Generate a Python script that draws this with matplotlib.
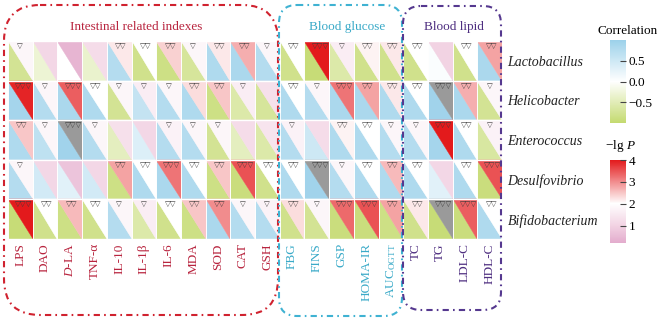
# -*- coding: utf-8 -*-
"""Correlation / -lg P split-cell heatmap: gut bacteria vs. indexes"""

import matplotlib
matplotlib.use("Agg")
import matplotlib.pyplot as plt
import matplotlib.patches as patches
from matplotlib.collections import PolyCollection
from matplotlib.colors import LinearSegmentedColormap, Normalize
from matplotlib.cm import ScalarMappable

plt.rcParams['font.family'] = ['Liberation Serif', 'DejaVu Serif']
plt.rcParams['mathtext.fontset'] = 'custom'
plt.rcParams['mathtext.rm'] = 'Liberation Serif'
plt.rcParams['mathtext.it'] = 'Liberation Serif:italic'
plt.rcParams['axes.unicode_minus'] = True

# ---- data ----
columns = ['LPS', 'DAO', r'$\it{D}$-LA', 'TNF-α', 'IL-10', 'IL-1β', 'IL-6', 'MDA',
           'SOD', 'CAT', 'GSH', 'FBG', 'FINS', 'GSP', 'HOMA-IR', r'AUC$_{\rm OGTT}$',
           'TC', 'TG', 'LDL-C', 'HDL-C']
group_names = ['Intestinal related indexes', 'Blood glucose', 'Blood lipid']
group_sizes = [11, 5, 4]
bacteria = ['Lactobacillus', 'Helicobacter', 'Enterococcus', 'Desulfovibrio', 'Bifidobacterium']

corr_lactobacillus = [-0.75, -0.3, 0.0, -0.35, 0.75, -0.8, -0.85, -0.7, 0.8, 0.85,
                      0.75, -0.8, -0.95, -0.6, -0.8, -0.8, -0.8, 0.05, -0.8, 0.85]
corr_helicobacter = [0.9, 0.75, 0.85, 0.8, -0.75, 0.6, 0.75, 0.8, -0.85, -0.6,
                     -0.7, 0.8, 0.75, 0.85, 0.85, 0.8, 0.8, 0.95, 0.85, -0.75]
corr_enterococcus = [0.8, 0.65, 0.95, 0.75, -0.45, 0.35, 0.75, 0.75, -0.75, -0.45,
                     -0.6, 0.75, 0.5, 0.8, 0.8, 0.75, 0.75, 0.9, 0.8, -0.65]
corr_desulfovibrio = [0.75, 0.45, 0.3, 0.45, -0.85, 0.8, 0.85, 0.8, -0.85, -0.9,
                      -0.8, 0.8, 0.95, 0.75, 0.8, 0.8, 0.8, 0.3, 0.8, -0.9]
corr_bifidobacterium = [-0.95, -0.8, -0.85, -0.8, 0.75, -0.6, -0.8, -0.85, 0.85, 0.75,
                        0.75, -0.8, -0.75, -0.9, -0.9, -0.85, -0.8, -0.95, -0.9, 0.8]

lgp_lactobacillus = [1.8, 1.1, 0.4, 1.2, 2.2, 2.0, 2.4, 1.8, 2.2, 2.7,
                     1.8, 2.0, 4.0, 1.6, 2.1, 2.2, 2.0, 1.0, 2.0, 2.8]
lgp_helicobacter = [3.9, 1.8, 3.4, 2.0, 1.8, 1.6, 1.8, 2.3, 2.5, 1.6,
                    1.3, 2.0, 1.8, 3.2, 2.8, 2.2, 2.0, 5.0, 2.7, 1.8]
lgp_enterococcus = [2.5, 1.8, 5.0, 1.8, 1.3, 1.1, 1.7, 1.8, 1.8, 1.2,
                    1.4, 1.7, 1.2, 2.1, 2.0, 1.8, 1.8, 4.0, 2.0, 1.7]
lgp_desulfovibrio = [1.8, 1.1, 0.7, 1.1, 2.8, 2.0, 3.2, 2.0, 2.5, 3.5,
                     2.0, 2.0, 5.0, 1.8, 2.0, 2.6, 2.0, 1.1, 2.0, 3.5]
lgp_bifidobacterium = [4.0, 2.0, 2.6, 2.0, 1.8, 1.6, 2.0, 2.5, 3.0, 1.8,
                       1.7, 2.3, 1.8, 3.3, 3.5, 2.8, 2.2, 5.0, 3.4, 2.0]

# number of significance marks (▽)
sig_lactobacillus = [1, 0, 0, 0, 2, 2, 2, 1, 2, 2, 1, 2, 3, 1, 2, 2, 2, 0, 2, 2]
sig_helicobacter = [3, 1, 3, 2, 1, 1, 1, 2, 2, 1, 0, 2, 1, 3, 2, 2, 2, 3, 2, 1]
sig_enterococcus = [2, 1, 3, 1, 0, 0, 1, 1, 1, 0, 0, 1, 0, 2, 2, 1, 1, 3, 2, 1]
sig_desulfovibrio = [1, 0, 0, 0, 2, 2, 3, 2, 2, 3, 2, 2, 3, 1, 2, 2, 2, 0, 2, 3]
sig_bifidobacterium = [3, 2, 2, 2, 1, 1, 2, 2, 2, 1, 1, 2, 1, 3, 3, 2, 2, 3, 3, 2]

corr = [corr_lactobacillus, corr_helicobacter, corr_enterococcus,
        corr_desulfovibrio, corr_bifidobacterium]
lgp = [lgp_lactobacillus, lgp_helicobacter, lgp_enterococcus,
       lgp_desulfovibrio, lgp_bifidobacterium]
sig = [sig_lactobacillus, sig_helicobacter, sig_enterococcus,
       sig_desulfovibrio, sig_bifidobacterium]

# ---- styles ----
group_colors = ['#B8243E', '#3AAAC8', '#4E2E80']
box_colors = ['#D0222F', '#3FB2D2', '#55388F']

corr_cmap = LinearSegmentedColormap.from_list(
    'corr', [(0.0, '#C4DA70'), (0.5, '#FFFFFF'), (1.0, '#9CD1EA')])
corr_norm = Normalize(-1, 1)
p_lo, p_hi = 0.2, 4.0
pos = lambda v: (v - p_lo) / (p_hi - p_lo)
p_cmap = LinearSegmentedColormap.from_list(
    'lgp', [(0.0, '#E3ACCD'), (pos(1.0), '#F2D3E3'), (pos(2.0), '#FFFFFF'),
            (1.0, '#E31A1C')])
p_cmap.set_over('#9A9A9A')
p_norm = Normalize(p_lo, p_hi)

W, H = 660, 318
fig = plt.figure(figsize=(W / 100, H / 100), dpi=100)

# main grid axes (pixel placement)
gx0, gx1, gy0, gy1 = 8, 502, 41, 239
ax = fig.add_axes([gx0 / W, 1 - gy1 / H, (gx1 - gx0) / W, (gy1 - gy0) / H])

n_rows, n_cols = len(bacteria), len(columns)
lower, upper, cvals, pvals = [], [], [], []
for r in range(n_rows):
    for c in range(n_cols):
        lower.append([(c, r), (c, r + 1), (c + 1, r + 1)])
        upper.append([(c, r), (c + 1, r), (c + 1, r + 1)])
        cvals.append(corr[r][c])
        pvals.append(lgp[r][c])

pc_low = PolyCollection(lower, cmap=corr_cmap, norm=corr_norm,
                        edgecolors='face', linewidths=0.3)
pc_low.set_array(cvals)
pc_up = PolyCollection(upper, cmap=p_cmap, norm=p_norm,
                       edgecolors='face', linewidths=0.3)
pc_up.set_array(pvals)
ax.add_collection(pc_low)
ax.add_collection(pc_up)

# white separators between cells
for c in range(n_cols + 1):
    ax.axvline(c, color='white', linewidth=0.7)
for r in range(n_rows + 1):
    ax.axhline(r, color='white', linewidth=1.0)

# significance marks
for r in range(n_rows):
    for c in range(n_cols):
        n = sig[r][c]
        if n:
            ax.text(c + 0.5 + 0.07 * (n - 1), r + 0.05, '▽' * n,
                    ha='center', va='top', fontsize=5.4, color='#3A3A3A',
                    family='DejaVu Sans')

ax.set_xlim(0, n_cols)
ax.set_ylim(n_rows, 0)
for s in ax.spines.values():
    s.set_visible(False)

ax.set_xticks([c + 0.5 for c in range(n_cols)])
ax.set_xticklabels(columns, rotation=90, fontsize=9.5)
ax.tick_params(axis='x', length=0, pad=3)
col_group = []
for g, n in enumerate(group_sizes):
    col_group += [g] * n
for lab, g in zip(ax.get_xticklabels(), col_group):
    lab.set_color(group_colors[g])

ax.yaxis.tick_right()
ax.set_yticks([r + 0.5 for r in range(n_rows)])
ax.set_yticklabels(bacteria, fontsize=10, style='italic', color='#222222')
ax.tick_params(axis='y', length=0, pad=4)

# colorbars
cax1 = fig.add_axes([610 / W, 1 - 123 / H, 16 / W, 83 / H])
cb1 = fig.colorbar(ScalarMappable(norm=corr_norm, cmap=corr_cmap), cax=cax1)
cb1.set_ticks([0.5, 0.0, -0.5])
cb1.set_ticklabels(['0.5', '0.0', '\u22120.5'])
cb1.outline.set_visible(False)
cax1.tick_params(length=4, width=0.8, direction='in', color='#444444',
                 labelsize=9.5, pad=2)

cax2 = fig.add_axes([610 / W, 1 - 243 / H, 16 / W, 83 / H])
cb2 = fig.colorbar(ScalarMappable(norm=p_norm, cmap=p_cmap), cax=cax2)
cb2.set_ticks([1, 2, 3, 4])
cb2.outline.set_visible(False)
cax2.tick_params(length=4, width=0.8, direction='in', color='#444444',
                 labelsize=9.5, pad=2)

fig.text(628 / W, 1 - 31 / H, 'Correlation', ha='center', va='center', fontsize=9.5)
fig.text(620 / W, 1 - 146 / H, '\u2212lg $\\it{P}$', ha='center', va='center', fontsize=9.5)

# group boxes and titles (pixel overlay)
ov = fig.add_axes([0, 0, 1, 1], facecolor='none')
ov.set_xlim(0, W)
ov.set_ylim(H, 0)
ov.axis('off')

boxes = [(4, 5, 274, 310, 36), (279, 5, 123, 311, 18), (403, 6, 98, 304, 18)]
title_x = [136, 347, 454]
for (x0, y0, bw, bh, rad), col, name, tx, tcol in zip(boxes, box_colors, group_names,
                                                       title_x, group_colors):
    ov.add_patch(patches.FancyBboxPatch(
        (x0, y0), bw, bh, boxstyle=f'round,pad=0,rounding_size={rad}',
        fill=False, edgecolor=col, linewidth=1.5,
        linestyle=(0, (3.0, 2.0, 0.8, 2.0))))
    ov.text(tx, 27, name, ha='center', va='center', fontsize=9.5, color=tcol)

fig.savefig('out.png', dpi=100)
plt.close(fig)
